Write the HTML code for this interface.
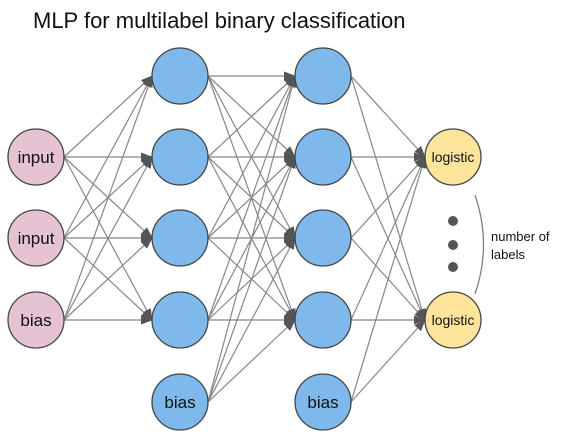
<!DOCTYPE html>
<html><head><meta charset="utf-8"><style>
html,body{margin:0;padding:0;background:#fff;width:569px;height:435px;overflow:hidden}
svg{display:block}
text{font-family:"Liberation Sans",sans-serif}
</style></head><body>
<svg id="s" width="569" height="435" viewBox="0 0 569 435">
<defs><marker id="a" markerWidth="12" markerHeight="10" refX="11" refY="5" orient="auto" markerUnits="userSpaceOnUse"><path d="M0,0.5 L12,5 L0,9.5 Z" fill="#555"/></marker></defs>
<text x="33" y="28" font-size="22" fill="#111">MLP for multilabel binary classification</text>
<g id="lines" stroke="#8a8588" stroke-width="1.2" fill="none"></g>
<g id="nodes" stroke="#444" stroke-width="1.3"></g>
<g font-size="17" fill="#111" text-anchor="middle">
<text x="36" y="163">input</text>
<text x="36" y="244">input</text>
<text x="36" y="326">bias</text>
<text x="180" y="408">bias</text>
<text x="323" y="408">bias</text>
</g>
<g font-size="14" fill="#111" text-anchor="middle">
<text x="453" y="162">logistic</text>
<text x="453" y="325">logistic</text>
</g>
<circle cx="453" cy="221" r="5" fill="#555"/>
<circle cx="453" cy="245" r="5" fill="#555"/>
<circle cx="453" cy="267" r="5" fill="#555"/>
<path d="M475,195 Q492,245 475,294" stroke="#777" stroke-width="1.2" fill="none"/>
<text x="491" y="241" font-size="13" fill="#111">number of</text>
<text x="491" y="259" font-size="13" fill="#111">labels</text>
</svg>
<script>
var r=28,ns="http://www.w3.org/2000/svg";
var L0=[[36,157],[36,238],[36,320]];
var L1=[[180,76],[180,157],[180,238],[180,320]],B1=[180,402];
var L2=[[323,76],[323,157],[323,238],[323,320]],B2=[323,402];
var O=[[453,157],[453,320]];
var lg=document.getElementById('lines'),ng=document.getElementById('nodes');
function ln(a,b){
var l=document.createElementNS(ns,'line');
l.setAttribute('x1',a[0]+r);l.setAttribute('y1',a[1]);
l.setAttribute('x2',b[0]-r);l.setAttribute('y2',b[1]);
l.setAttribute('marker-end','url(#a)');lg.appendChild(l);}
function ci(p,f){var c=document.createElementNS(ns,'circle');c.setAttribute('cx',p[0]);c.setAttribute('cy',p[1]);c.setAttribute('r',r);c.setAttribute('fill',f);ng.appendChild(c);}
L0.forEach(a=>L1.forEach(b=>ln(a,b)));
L1.concat([B1]).forEach(a=>L2.forEach(b=>ln(a,b)));
L2.concat([B2]).forEach(a=>O.forEach(b=>ln(a,b)));
L0.forEach(p=>ci(p,'#e6c3d3'));
L1.concat([B1],L2,[B2]).forEach(p=>ci(p,'#7fb9ec'));
O.forEach(p=>ci(p,'#fde49b'));
</script>
</body></html>
